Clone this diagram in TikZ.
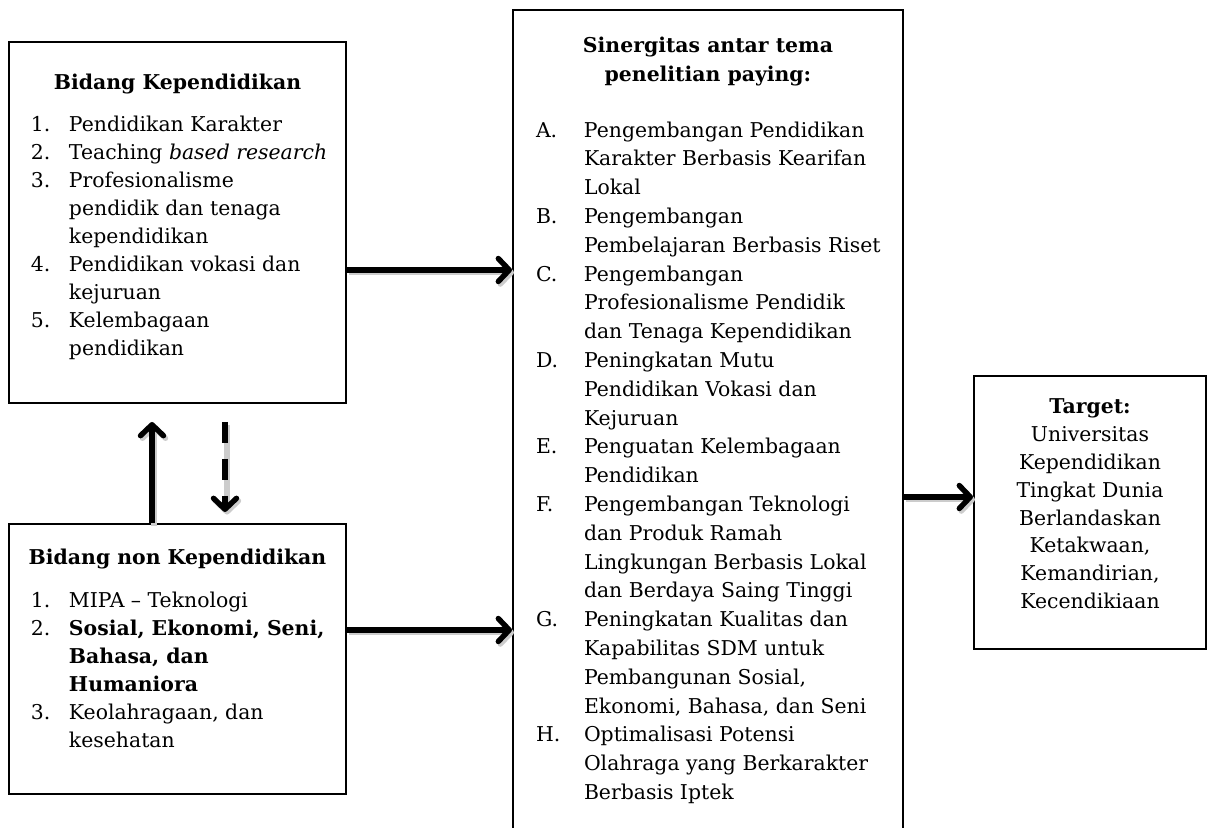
\documentclass[tikz,border=0pt]{standalone}
\usepackage{fontspec}
\setmainfont{DejaVu Serif}
\usetikzlibrary{arrows.meta,positioning}

\newlength\lblw
\newcommand\itm[2]{\par\hangindent=\lblw\hangafter=1\noindent\makebox[\lblw][l]{#1}#2}

\tikzset{
  kotak/.style={draw,line width=1pt,inner sep=0pt,anchor=north west},
  panah/.style={line width=2.7pt,-{Straight Barb[length=5.5pt,width=11.5pt,round]},
    preaction={draw,gray!40,line width=2.7pt,transform canvas={shift={(1pt,-1.3pt)}}}},
  putus/.style={dash pattern=on 10.5pt off 8pt}
}

\begin{document}
\begin{tikzpicture}[x=0.5pt,y=-0.5pt,font=\fontsize{10.2}{14}\selectfont]
\useasboundingbox (0,0) rectangle (1207,828);

% kotak kiri atas
\node[kotak] (kep) at (8,41) {\parbox[t][180.5pt][t]{168.5pt}{%
\vspace*{16pt}
{\centering\bfseries Bidang Kependidikan\par}
\vspace{7pt}
\setlength\lblw{19pt}\leftskip=11pt
\itm{1.}{Pendidikan Karakter}
\itm{2.}{Teaching \textit{based research}}
\itm{3.}{Profesionalisme\\pendidik dan tenaga\\kependidikan}
\itm{4.}{Pendidikan vokasi dan\\kejuruan}
\itm{5.}{Kelembagaan\\pendidikan}\par}};

% kotak kiri bawah
\node[kotak] (non) at (8,523) {\parbox[t][135pt][t]{168.5pt}{%
\vspace*{12.5pt}
{\centering\bfseries Bidang non Kependidikan\par}
\vspace{7.5pt}
\setlength\lblw{19pt}\leftskip=11pt
\itm{1.}{MIPA -- Teknologi}
\itm{2.}{\textbf{Sosial, Ekonomi, Seni,}\\\textbf{Bahasa, dan}\\\textbf{Humaniora}}
\itm{3.}{Keolahragaan, dan\\kesehatan}\par}};

% kotak tengah
\node[kotak] (sin) at (512,9) {\parbox[t][412pt][t]{195pt}{%
\fontsize{10.2}{14.4}\selectfont
\vspace*{13.5pt}
{\centering\bfseries Sinergitas antar tema\\penelitian paying:\par}
\vspace{13.5pt}
\setlength\lblw{24pt}\leftskip=11.5pt
\itm{A.}{Pengembangan Pendidikan\\Karakter Berbasis Kearifan\\Lokal}
\itm{B.}{Pengembangan\\Pembelajaran Berbasis Riset}
\itm{C.}{Pengembangan\\Profesionalisme Pendidik\\dan Tenaga Kependidikan}
\itm{D.}{Peningkatan Mutu\\Pendidikan Vokasi dan\\Kejuruan}
\itm{E.}{Penguatan Kelembagaan\\Pendidikan}
\itm{F.}{Pengembangan Teknologi\\dan Produk Ramah\\Lingkungan Berbasis Lokal\\dan Berdaya Saing Tinggi}
\itm{G.}{Peningkatan Kualitas dan\\Kapabilitas SDM untuk\\Pembangunan Sosial,\\Ekonomi, Bahasa, dan Seni}
\itm{H.}{Optimalisasi Potensi\\Olahraga yang Berkarakter\\Berbasis Iptek}\par}};

% kotak target
\node[kotak] (tgt) at (973,375) {\parbox[t][136.5pt][t]{116pt}{%
\fontsize{10.2}{13.9}\selectfont
\vspace*{11.5pt}
\centering\textbf{Target:}\\Universitas\\Kependidikan\\Tingkat Dunia\\Berlandaskan\\Ketakwaan,\\Kemandirian,\\Kecendikiaan\par}};

% panah
\draw[panah] (kep.east |- 0,270) -- (sin.west |- 0,270);
\draw[panah] (non.east |- 0,630) -- (sin.west |- 0,630);
\draw[panah] (sin.east |- 0,497) -- (tgt.west |- 0,497);
\draw[panah] (non.north -| 152,0) -- ([yshift=-9pt]kep.south -| 152,0);
\draw[panah,putus] ([yshift=-9pt]kep.south -| 225,0) -- ([yshift=5.5pt]non.north -| 225,0);

\end{tikzpicture}
\end{document}
